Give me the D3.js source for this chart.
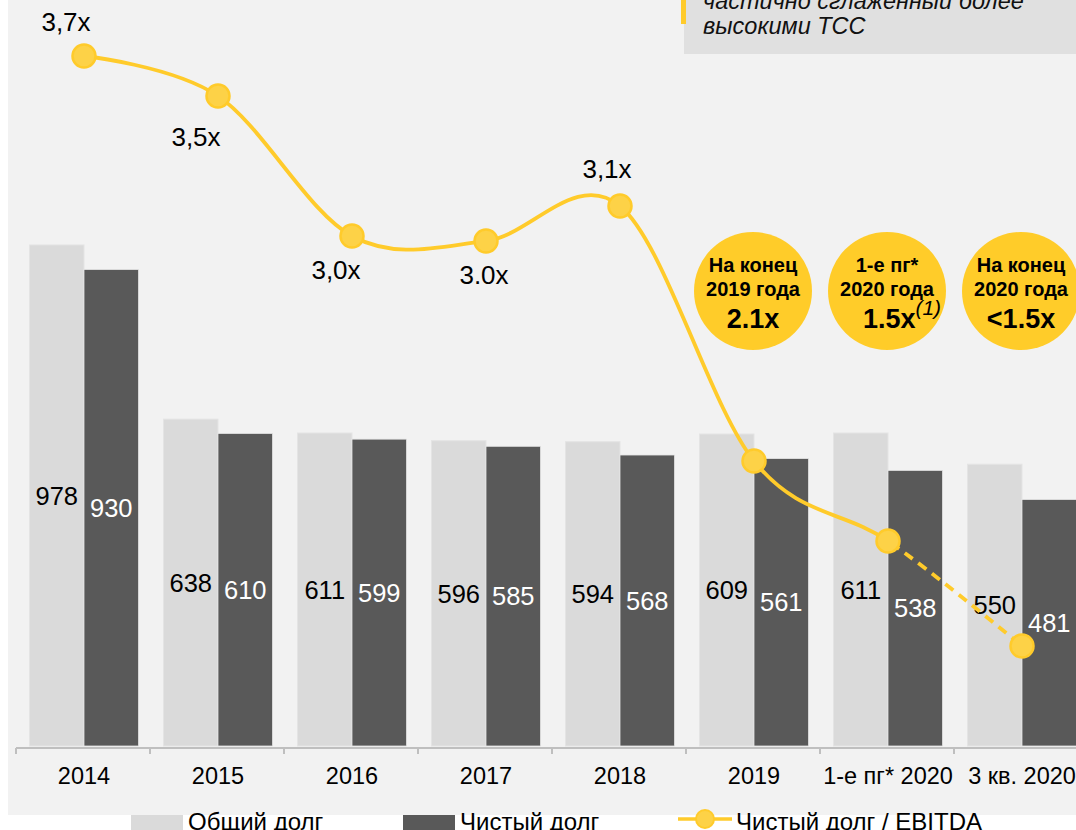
<!DOCTYPE html>
<html><head><meta charset="utf-8">
<script src="https://cdn.jsdelivr.net/npm/d3@7"></script>
<style>body{margin:0;background:#fff;} svg{display:block;font-family:"Liberation Sans",Arial,sans-serif;}</style>
</head><body><svg id="c" width="1076" height="830"></svg>
<script>
const categories = ["2014","2015","2016","2017","2018","2019","1-е пг* 2020","3 кв. 2020"];
const totalDebt = [978,638,611,596,594,609,611,550];
const netDebt = [930,610,599,585,568,561,538,481];
const ratio = [3.7,3.54,2.98,2.96,3.1,2.08,1.76,1.34];
const ratioLabels = ["3,7x","3,5x","3,0x","3.0x","3,1x"];
const bubbleCats = ["2019","1-е пг* 2020","3 кв. 2020"];
const bubbleTitles = [["На конец","2019 года"],["1-е пг*","2020 года"],["На конец","2020 года"]];
const bubbleValues = ["2.1x","1.5x","<1.5x"];
const bubbleNotes = ["","(1)",""];
const noteLines = ["частично сглаженный более","высокими ТСС"];
const legendLabels = ["Общий долг","Чистый долг","Чистый долг / EBITDA"];

const C = {bg:"#f2f2f2", light:"#dadada", dark:"#595959", yellow:"#ffcb2b", yellowFill:"#fdd247", axis:"#bfbfbf"};
const svg = d3.select("#c");
svg.append("rect").attr("x",8).attr("y",0).attr("width",1068).attr("height",815).attr("fill",C.bg);

const x = d3.scaleBand().domain(categories).range([16,1088]);
const y = d3.scaleLinear().domain([0,1000]).range([746,746-512.3]);
const y2 = d3.scaleLinear().domain([0,4]).range([981,-19]);
const barW = 54.5;
const cx = c => x(c) + x.bandwidth()/2 + 1;

// note box top right
svg.append("rect").attr("x",684).attr("y",-10).attr("width",400).attr("height",64).attr("fill","#e0e0e0");
svg.append("rect").attr("x",681).attr("y",-10).attr("width",5).attr("height",34).attr("fill",C.yellow);
svg.append("g").selectAll("text").data(noteLines).join("text")
  .attr("x",703).attr("y",(d,i)=>9+i*25).attr("font-size",23.5).attr("font-style","italic").attr("fill","#111").text(d=>d);

// bars
const g = svg.append("g");
g.selectAll(".tb").data(categories).join("rect")
  .attr("x",c=>cx(c)-barW).attr("y",(c,i)=>y(totalDebt[i])).attr("width",barW)
  .attr("height",(c,i)=>y(0)-y(totalDebt[i])).attr("fill",C.light).attr("stroke","#e4e4e4").attr("stroke-width",1);
g.selectAll(".nb").data(categories).join("rect")
  .attr("x",c=>cx(c)).attr("y",(c,i)=>y(netDebt[i])).attr("width",barW)
  .attr("height",(c,i)=>y(0)-y(netDebt[i])).attr("fill",C.dark).attr("stroke","#e4e4e4").attr("stroke-width",0.8);

// bar labels
g.selectAll(".tl").data(categories).join("text")
  .attr("x",c=>cx(c)-barW/2).attr("y",(c,i)=>(y(totalDebt[i])+y(0))/2).attr("dy","0.36em")
  .attr("text-anchor","middle").attr("font-size",25.5).attr("fill","#000").text((c,i)=>totalDebt[i]);
g.selectAll(".nl").data(categories).join("text")
  .attr("x",c=>cx(c)+barW/2).attr("y",(c,i)=>(y(netDebt[i])+y(0))/2).attr("dy","0.36em")
  .attr("text-anchor","middle").attr("font-size",25.5).attr("fill","#fff").text((c,i)=>netDebt[i]);

// axis
const ax = svg.append("g").attr("transform","translate(0,748)");
ax.append("line").attr("x1",16).attr("x2",1076).attr("stroke",C.axis).attr("stroke-width",2);
ax.selectAll(".tk").data(categories).join("line")
  .attr("x1",c=>x(c)).attr("x2",c=>x(c)).attr("y1",0).attr("y2",6).attr("stroke",C.axis).attr("stroke-width",2);
ax.selectAll(".lb").data(categories).join("text")
  .attr("x",c=>cx(c)).attr("y",36).attr("text-anchor","middle").attr("font-size",23.5).attr("fill","#000").text(c=>c);

// line
const pts = categories.map((c,i)=>[cx(c), y2(ratio[i])]);
const splitX = cx(categories[6]);
const defs = svg.append("defs");
defs.append("clipPath").attr("id","cl").append("rect").attr("x",0).attr("y",0).attr("width",splitX).attr("height",830);
defs.append("clipPath").attr("id","cr").append("rect").attr("x",splitX).attr("y",0).attr("width",1076-splitX).attr("height",830);
const lineGen = d3.line().curve(d3.curveCardinal.tension(0));
svg.append("path").attr("d",lineGen(pts)).attr("fill","none").attr("stroke",C.yellow).attr("stroke-width",3.8).attr("clip-path","url(#cl)");
svg.append("path").attr("d",lineGen(pts)).attr("fill","none").attr("stroke",C.yellow).attr("stroke-width",3.8)
  .attr("stroke-dasharray","10,7").attr("clip-path","url(#cr)");
svg.append("g").selectAll("circle").data(pts).join("circle")
  .attr("cx",d=>d[0]).attr("cy",d=>d[1]).attr("r",11.5).attr("fill",C.yellowFill).attr("stroke",C.yellow).attr("stroke-width",2.5);

const lblOff = [[-18,-34],[-22,41],[-16,34],[-2,34],[-13,-37]];
svg.append("g").selectAll("text").data(ratioLabels).join("text")
  .attr("x",(d,i)=>pts[i][0]+lblOff[i][0]).attr("y",(d,i)=>pts[i][1]+lblOff[i][1]).attr("dy","0.36em")
  .attr("text-anchor","middle").attr("font-size",26).attr("fill","#000").text(d=>d);

// bubbles
const bub = svg.append("g").selectAll("g").data(bubbleCats).join("g")
  .attr("transform",c=>`translate(${cx(c)-1},291)`);
bub.append("circle").attr("r",59).attr("fill","#ffcc29");
bub.append("text").attr("y",-19).attr("text-anchor","middle").attr("font-size",20).attr("font-weight","bold").text((c,i)=>bubbleTitles[i][0]);
bub.append("text").attr("y",5).attr("text-anchor","middle").attr("font-size",20).attr("font-weight","bold").text((c,i)=>bubbleTitles[i][1]);
const hasNote = c => bubbleNotes[bubbleCats.indexOf(c)] !== "";
const vt = bub.append("text").attr("x",c=>hasNote(c)?15:0).attr("y",37).attr("text-anchor","middle").attr("font-size",27).attr("font-weight","bold");
vt.append("tspan").text((c,i)=>bubbleValues[i]);
vt.filter(hasNote).append("tspan").attr("dy",-13).attr("font-size",21).attr("font-weight","normal").attr("font-style","italic")
  .text(c=>bubbleNotes[bubbleCats.indexOf(c)]);

// legend
const lg = svg.append("g");
lg.append("rect").attr("x",131).attr("y",815).attr("width",52).attr("height",16).attr("fill",C.light);
lg.append("rect").attr("x",403).attr("y",815).attr("width",52).attr("height",16).attr("fill",C.dark);
lg.append("line").attr("x1",678).attr("x2",732).attr("y1",819).attr("y2",819).attr("stroke",C.yellow).attr("stroke-width",3.5);
lg.append("circle").attr("cx",705).attr("cy",819).attr("r",9).attr("fill",C.yellowFill).attr("stroke",C.yellow).attr("stroke-width",2);
const lx = [188,460,736];
lg.selectAll("text").data(legendLabels).join("text")
  .attr("x",(d,i)=>lx[i]).attr("y",830).attr("font-size",24).attr("fill","#000").text(d=>d);
</script></body></html>
